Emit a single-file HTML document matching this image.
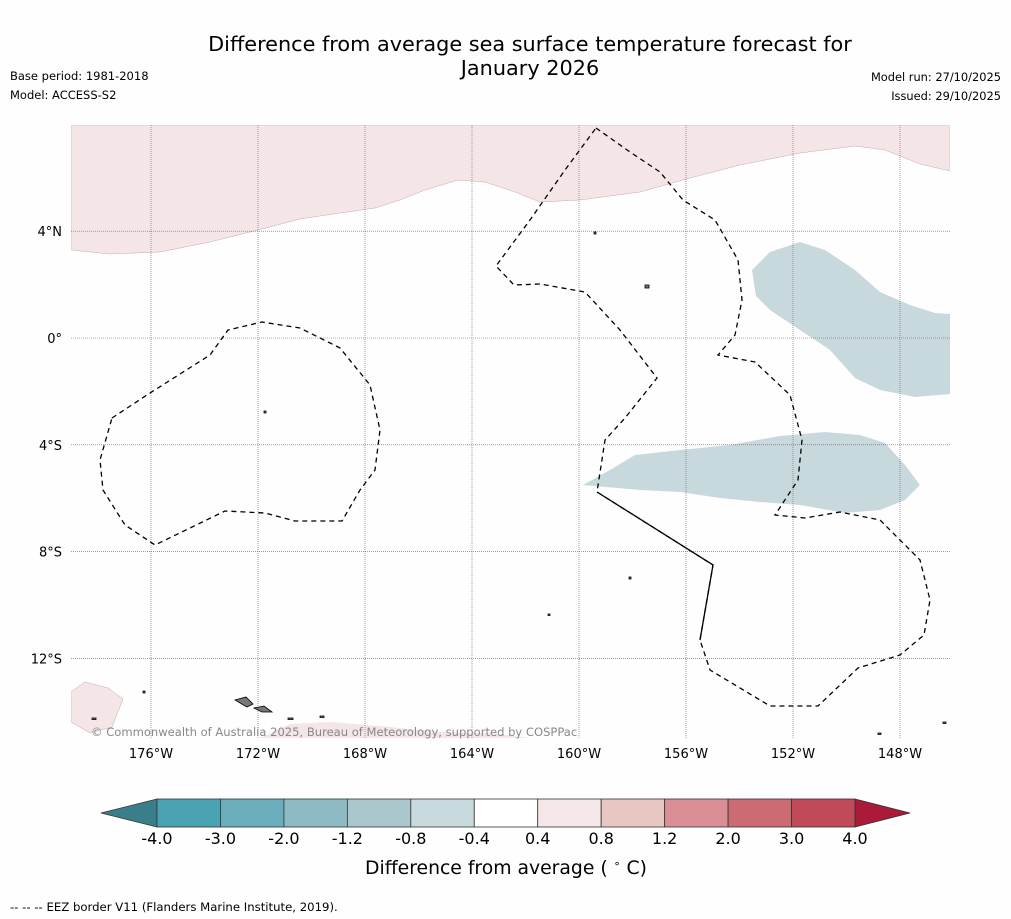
<!DOCTYPE html>
<html><head><meta charset="utf-8">
<style>
body{margin:0;background:#fefefe;font-family:"Liberation Sans","DejaVu Sans",sans-serif;}
#wrap{position:relative;width:1011px;height:919px;overflow:hidden;background:#fefefe;}
.t{position:absolute;color:#000;}
</style></head>
<body>
<div id="wrap">
<div class="t" style="left:130px;top:32px;width:800px;text-align:center;font-size:20.8px;line-height:24px;font-family:'DejaVu Sans',sans-serif;">Difference from average sea surface temperature forecast for<br>January 2026</div>
<div class="t" style="left:10px;top:69px;font-size:11.5px;font-family:'DejaVu Sans',sans-serif;">Base period: 1981-2018</div>
<div class="t" style="left:10px;top:88px;font-size:11.5px;font-family:'DejaVu Sans',sans-serif;">Model: ACCESS-S2</div>
<div class="t" style="right:10px;top:70px;font-size:11.4px;text-align:right;font-family:'DejaVu Sans',sans-serif;">Model run: 27/10/2025</div>
<div class="t" style="right:10px;top:89px;font-size:11.4px;text-align:right;font-family:'DejaVu Sans',sans-serif;">Issued: 29/10/2025</div>
<svg id="svg" width="1011" height="919" style="position:absolute;left:0;top:0">
<defs><clipPath id="mc"><rect x="71" y="125" width="879" height="613"/></clipPath></defs>
<g clip-path="url(#mc)">
<path fill="#f4e6e6" stroke="#c8a8b0" stroke-width="0.5" d="M71,125 L950,125 L950,171 L920,164 L885,150 L855,146 L800,153 L740,165 L690,178 L640,192 L580,200 L540,202 L515,192 L485,182 L458,180 L425,190 L400,200 L375,208 L340,213 L300,219 L258,230 L210,242 L160,252 L110,254 L71,250 Z"/>
<path fill="#c8d9dd" d="M752,270 L770,252 L800,242 L825,250 L855,270 L880,292 L910,305 L935,313 L950,314 L950,394 L915,397 L880,390 L855,378 L830,350 L800,330 L770,310 L756,296 Z"/>
<path fill="#c8d9dd" d="M583,485 L610,470 L635,455 L680,450 L730,445 L780,436 L825,432 L860,435 L885,443 L905,465 L920,485 L905,500 L880,510 L845,513 L800,505 L760,502 L720,498 L680,492 L640,490 Z"/>
<path fill="#f4e6e6" stroke="#c8a8b0" stroke-width="0.5" d="M71,692 L85,682 L108,688 L123,699 L112,727 L90,733 L71,722 Z"/>
<path fill="#f4e6e6" d="M260,738 L290,724 L330,722 L380,726 L440,732 L490,733 L530,738 Z"/>
<g id="grid"></g>
<g fill="none" stroke="#000" stroke-width="1.3" stroke-dasharray="5,4">
<path d="M112,418 L150,393 L210,355 L228,330 L262,322 L300,328 L340,348 L370,385 L380,430 L375,470 L360,490 L342,521 L295,521 L265,513 L225,511 L155,545 L125,525 L103,490 L100,460 Z"/>
<path d="M596,128 L630,152 L660,172 L683,200 L715,220 L738,260 L742,300 L735,335 L718,355 L755,362 L790,395 L802,440 L798,480 L775,515 L805,518 L840,512 L880,520 L920,560 L930,600 L924,635 L900,655 L858,668 L818,706 L770,706 L710,670 L700,640 L713,565 L597,492 L605,440 L625,418 L657,378 L620,330 L585,292 L540,284 L514,285 L496,266 L530,220 L565,170 Z"/>
</g>
<path fill="none" stroke="#000" stroke-width="1.3" d="M597,492 L713,565 L700,640"/>
<g fill="#777" stroke="#000" stroke-width="0.8">
<path d="M235,700 L246,697 L253,704 L247,707 Z"/><path d="M254,708 L264,706 L272,712 L262,712 Z"/>
<rect x="645" y="285" width="4" height="3"/><rect x="594" y="232" width="2" height="2"/><rect x="143" y="691" width="2" height="2"/><rect x="92" y="718" width="4" height="1.5"/><rect x="288" y="718" width="5" height="1.5"/><rect x="320" y="716" width="4" height="1.5"/><rect x="264" y="411" width="2" height="2"/><rect x="629" y="577" width="2" height="2"/><rect x="548" y="614" width="2" height="1.5"/><rect x="878" y="733" width="3" height="1.5"/><rect x="943" y="722" width="3" height="1.5"/>
</g>
</g>
<g id="axlabels"></g>
<text x="91" y="736" font-size="11.55" fill="#888" font-family="DejaVu Sans, sans-serif">© Commonwealth of Australia 2025, Bureau of Meteorology, supported by COSPPac</text>
<g id="cbar"></g>
<text x="506" y="874" font-size="18.8" text-anchor="middle" font-family="DejaVu Sans, sans-serif">Difference from average ( <tspan font-size="11" dy="-7">∘</tspan><tspan dy="7"> C)</tspan></text>
<text x="10" y="911" font-size="11.7" font-family="DejaVu Sans, sans-serif">-- -- -- EEZ border V11 (Flanders Marine Institute, 2019).</text>
</svg>
</div>
<script>
const lonTicks=[-176,-172,-168,-164,-160,-156,-152,-148];
const latTicks=[4,0,-4,-8,-12];
const cbBounds=[-4.0,-3.0,-2.0,-1.2,-0.8,-0.4,0.4,0.8,1.2,2.0,3.0,4.0];
const cbLabels=["-4.0","-3.0","-2.0","-1.2","-0.8","-0.4","0.4","0.8","1.2","2.0","3.0","4.0"];
const cbColors=["#4aa3b2","#6aaebb","#8dbac5","#aac7cd","#c8dadd","#ffffff","#f5e7e7","#e8c6c2","#d98f95","#cc6b74","#c14a58"];
const NS="http://www.w3.org/2000/svg";
const xL=l=>151+(l+176)*26.75;
const yL=l=>338-l*26.7;
function mk(tag,a,p){const e=document.createElementNS(NS,tag);for(const k in a)e.setAttribute(k,a[k]);p.appendChild(e);return e;}
const grid=document.getElementById('grid'),ax=document.getElementById('axlabels');
lonTicks.forEach(l=>{
 const ln=mk('line',{x1:xL(l),x2:xL(l),y1:125,y2:738,stroke:'#6a5a70','stroke-width':0.6,'stroke-dasharray':'1,1'},grid);
 
 
 const t=mk('text',{x:xL(l),y:758,'font-size':13,'text-anchor':'middle','font-family':'DejaVu Sans, sans-serif'},ax);
 t.textContent=Math.abs(l)+'°W';
 
 
});
latTicks.forEach(l=>{
 const y=yL(l);
 const ln=mk('line',{x1:71,x2:950,y1:y,y2:y,stroke:'#6a5a70','stroke-width':0.6,'stroke-dasharray':'1,1'},grid);
 
 
 const t=mk('text',{x:62,y:y+5,'font-size':13,'text-anchor':'end','font-family':'DejaVu Sans, sans-serif'},ax);
 t.textContent=l===0?'0°':Math.abs(l)+'°'+(l>0?'N':'S');
 
 
});
const cb=document.getElementById('cbar');
const x0=157,x1=855,n=cbColors.length,w=(x1-x0)/n,yt=799,yb=827;
const lt=mk('path',{d:`M${x0},${yt} L101,813 L${x0},${yb} Z`,fill:'#3a7e89',stroke:'#333','stroke-width':0.8},cb);


const rt=mk('path',{d:`M${x1},${yt} L910,813 L${x1},${yb} Z`,fill:'#ac1a3a',stroke:'#333','stroke-width':0.8},cb);


cbColors.forEach((c,i)=>{
 const r=mk('rect',{x:x0+i*w,y:yt,width:w,height:yb-yt,fill:c,stroke:'#333','stroke-width':0.8},cb);
 
 
});
cbLabels.forEach((s,i)=>{
 const t=mk('text',{x:x0+i*w,y:844,'font-size':16,'text-anchor':'middle','font-family':'DejaVu Sans, sans-serif'},cb);
 t.textContent=s;
 
 
});
</script>
</body></html>
